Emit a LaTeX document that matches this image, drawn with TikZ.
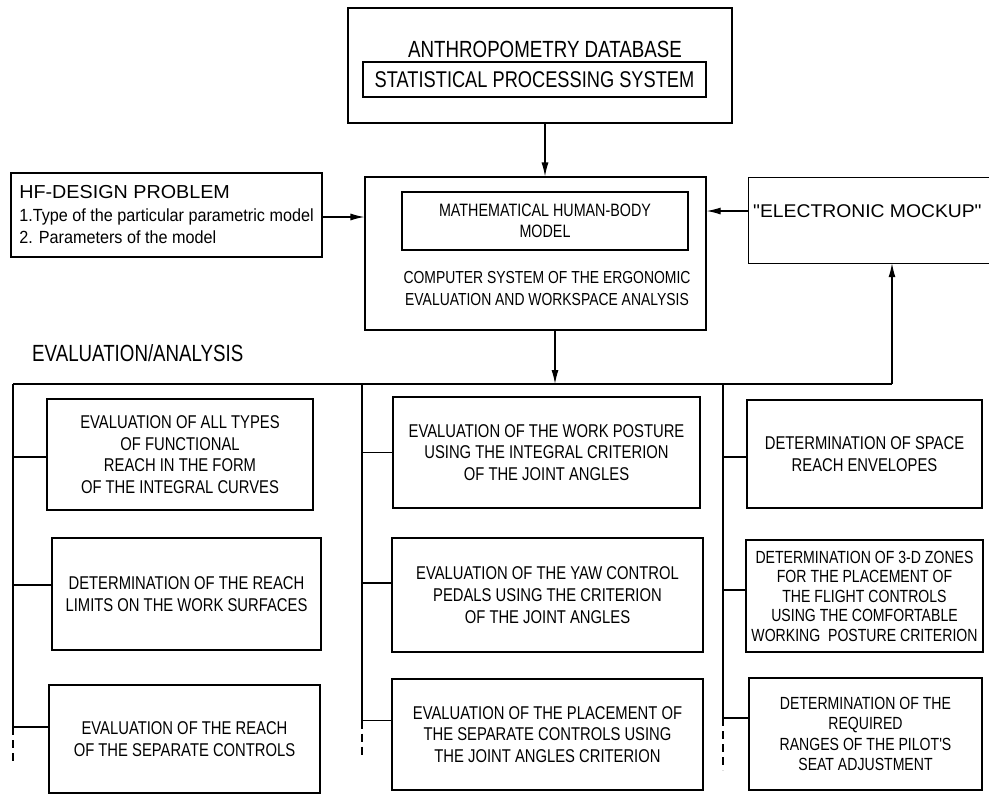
\documentclass[tikz,border=0pt]{standalone}
\usepackage{fontspec}
\usetikzlibrary{arrows.meta}
\newfontfamily\fN{Liberation Sans}[FakeStretch=0.8]
\newfontfamily\fM{Liberation Sans}[FakeStretch=0.92]
\newfontfamily\fW{Liberation Sans}[FakeStretch=1.05]
\tikzset{
  ln/.style={line width=1.2pt},
  arr/.style={line width=1.2pt,-{Latex[length=14pt,width=7pt]}},
  dsh/.style={line width=1.2pt,dash pattern=on 8pt off 5pt},
  box/.style={draw,line width=1.2pt,inner sep=0pt,align=center,
    font=\fN\fontsize{18.5}{21.7}\selectfont},
  txt/.style={inner sep=0pt,align=center},
}
\begin{document}
\begin{tikzpicture}[x=1pt,y=-1pt]
\useasboundingbox (0,0) rectangle (989,796);
% top block
\node[box,minimum width=384pt,minimum height=115pt] (top) at (540,65.5) {};
\node[txt,font=\fN\fontsize{23.4}{28}\selectfont] (anth) at (545,49) {ANTHROPOMETRY DATABASE};
\node[box,minimum width=343pt,minimum height=35pt,font=\fN\fontsize{22.8}{27}\selectfont] (stat) at (534.5,79.5) {STATISTICAL PROCESSING SYSTEM};
% center block
\node[box,minimum width=341pt,minimum height=153pt] (center) at (535.5,253.5) {};
\node[box,minimum width=286pt,minimum height=58pt,font=\fN\fontsize{17.9}{21.5}\selectfont] (math) at (545,221) {MATHEMATICAL HUMAN-BODY\\MODEL};
\node[txt,font=\fN\fontsize{17.4}{22}\selectfont] (comp) at (547,289) {COMPUTER SYSTEM OF THE ERGONOMIC\\EVALUATION AND WORKSPACE ANALYSIS};
% HF design problem
\node[draw,line width=1.2pt,minimum height=84pt,minimum width=311pt,inner xsep=5pt,inner ysep=0pt,align=left,
  font=\fM\fontsize{17.6}{22.5}\selectfont] (hf) at (166.5,215)
  {{\fW\fontsize{18.8}{22.5}\selectfont HF-DESIGN PROBLEM}\\1.Type of the particular parametric model\\2. Parameters of the model};
% electronic mockup (open on the right edge)
\node[minimum width=240pt,minimum height=85pt,inner sep=0pt] (mock) at (869,220.5) {};
\draw[ln] (mock.north east) -- (mock.north west) -- (mock.south west) -- (mock.south east);
\node[txt,anchor=west,font=\fW\fontsize{18.4}{22}\selectfont] (mocktxt) at (753,211) {"ELECTRONIC MOCKUP"};
% label
\node[txt,anchor=west,font=\fN\fontsize{23.4}{28}\selectfont] (evan) at (32,353) {EVALUATION/ANALYSIS};
% left column
\node[box,minimum width=266pt,minimum height=111pt] (L1) at (180,454.5) {EVALUATION OF ALL TYPES\\OF FUNCTIONAL\\REACH IN THE FORM\\OF THE INTEGRAL CURVES};
\node[box,minimum width=269pt,minimum height=112pt] (L2) at (186.5,594) {DETERMINATION OF THE REACH\\LIMITS ON THE WORK SURFACES};
\node[box,minimum width=271pt,minimum height=108pt] (L3) at (184.5,739) {EVALUATION OF THE REACH\\OF THE SEPARATE CONTROLS};
% middle column
\node[box,minimum width=307pt,minimum height=111pt] (M1) at (546.5,452.5) {EVALUATION OF THE WORK POSTURE\\USING THE INTEGRAL CRITERION\\OF THE JOINT ANGLES};
\node[box,minimum width=311pt,minimum height=114pt] (M2) at (547.5,595) {EVALUATION OF THE YAW CONTROL\\PEDALS USING THE CRITERION\\OF THE JOINT ANGLES};
\node[box,minimum width=311pt,minimum height=111pt] (M3) at (547.5,734.5) {EVALUATION OF THE PLACEMENT OF\\THE SEPARATE CONTROLS USING\\THE JOINT ANGLES CRITERION};
% right column
\node[box,minimum width=235pt,minimum height=108pt] (R1) at (864.5,454) {DETERMINATION OF SPACE\\REACH ENVELOPES};
\node[box,minimum width=237pt,minimum height=112pt,font=\fN\fontsize{17.6}{19.5}\selectfont] (R2) at (864.5,596) {DETERMINATION OF 3-D ZONES\\FOR THE PLACEMENT OF\\THE FLIGHT CONTROLS\\USING THE COMFORTABLE\\WORKING\ \ POSTURE CRITERION};
\node[box,minimum width=233pt,minimum height=112pt,font=\fN\fontsize{17.6}{20.5}\selectfont] (R3) at (865.5,734) {DETERMINATION OF THE\\REQUIRED\\RANGES OF THE PILOT'S\\SEAT ADJUSTMENT};
% bus coordinates
\coordinate (bL) at (13,384);
\coordinate (bM) at (362,384);
\coordinate (bR) at (723,384);
\coordinate (bE) at (892,384);
\coordinate (eL) at (13,765);
\coordinate (eM) at (362,758);
\coordinate (eR) at (723,770);
% arrows
\draw[arr] ([xshift=5pt]top.south) -- ([xshift=5pt]top.south |- center.north);
\draw[arr] ([yshift=-2pt]hf.east) -- ([yshift=-2pt]hf.east -| center.west);
\draw[arr] ([yshift=9.5pt]mock.west) -- ([yshift=9.5pt]mock.west -| center.east);
\draw[arr] ([xshift=19.5pt]center.south) -- ([xshift=19.5pt]center.south |- bL);
\draw[arr] (bE) -- (bE |- mock.south);
% bus
\draw[ln] (bL) -- (bE);
% verticals
\draw[ln] (bL) -- ([yshift=12pt]L3.west -| bL);
\draw[dsh] ([yshift=12pt]L3.west -| bL) -- (eL);
\draw[ln] (bM) -- ([yshift=14pt]M3.west -| bM);
\draw[dsh] ([yshift=14pt]M3.west -| bM) -- (eM);
\draw[ln] (bR) -- ([yshift=16pt]R3.west -| bR);
\draw[dsh] ([yshift=16pt]R3.west -| bR) -- (eR);
% branches
\draw[ln] ([yshift=-2.5pt]L1.west -| bL) -- ([yshift=-2.5pt]L1.west);
\draw[ln] ([yshift=9pt]L2.west -| bL) -- ([yshift=9pt]L2.west);
\draw[ln] ([yshift=12pt]L3.west -| bL) -- ([yshift=12pt]L3.west);
\draw[ln] (M1.west -| bM) -- (M1.west);
\draw[ln] ([yshift=12pt]M2.west -| bM) -- ([yshift=12pt]M2.west);
\draw[ln] ([yshift=14pt]M3.west -| bM) -- ([yshift=14pt]M3.west);
\draw[ln] ([yshift=-3pt]R1.west -| bR) -- ([yshift=-3pt]R1.west);
\draw[ln] ([yshift=6pt]R2.west -| bR) -- ([yshift=6pt]R2.west);
\draw[ln] ([yshift=16pt]R3.west -| bR) -- ([yshift=16pt]R3.west);
\end{tikzpicture}
\end{document}
